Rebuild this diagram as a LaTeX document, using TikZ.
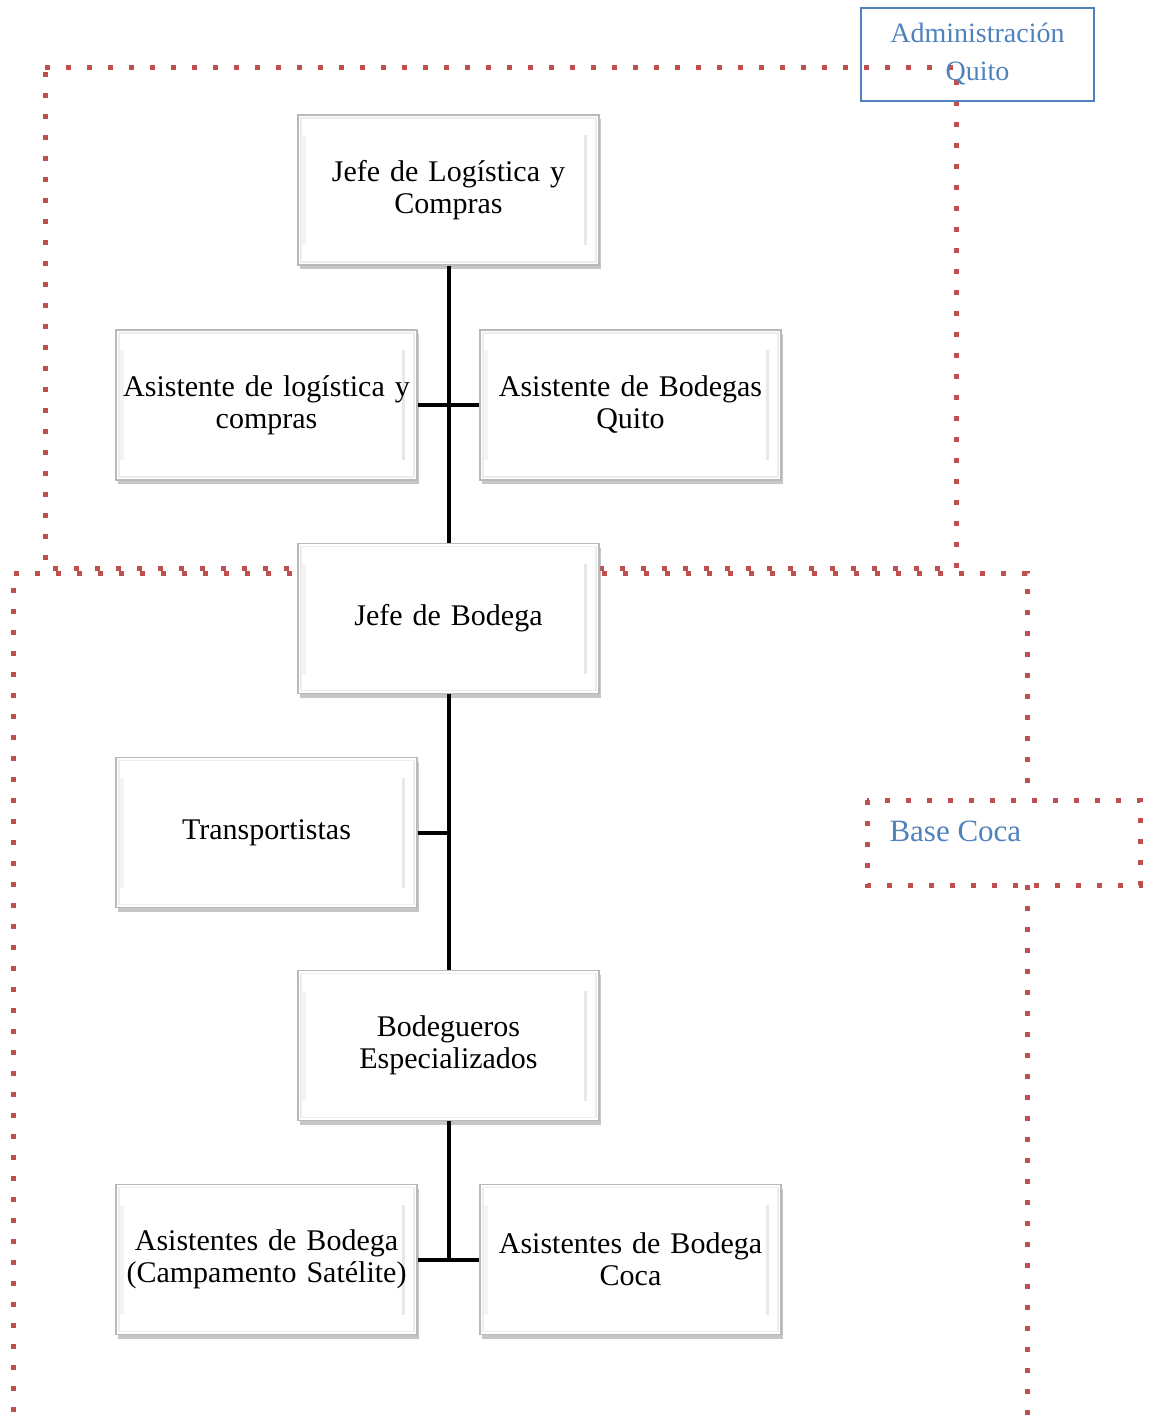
\documentclass[tikz,border=0pt]{standalone}
\usepackage{fontspec}
\setmainfont{Liberation Serif}
\usetikzlibrary{shadows,calc}
\definecolor{dotred}{RGB}{192,80,77}
\definecolor{labelblue}{RGB}{79,129,189}
\begin{document}
\begin{tikzpicture}[x=1pt,y=-1pt,
  orgbox/.style={draw=gray!55, line width=1.8pt, fill=white,
    minimum width=301pt, minimum height=150pt, inner sep=0pt,
    text width=298pt, align=center, font=\fontsize{30}{32}\selectfont,
    drop shadow={shadow xshift=1.5pt, shadow yshift=-4pt, opacity=0.45, fill=gray},
    % bevel highlights, painted under the text
    path picture={
      \draw[gray!14, line width=1.2pt]
        ($(path picture bounding box.north west)+(3,3)$) rectangle
        ($(path picture bounding box.south east)+(-3,-3)$);
      \draw[gray!18, line width=3pt]
        ($(path picture bounding box.north east)+(-14,20)$) --
        ($(path picture bounding box.south east)+(-14,-20)$);
      \draw[gray!9, line width=4pt]
        ($(path picture bounding box.north west)+(6,20)$) --
        ($(path picture bounding box.south west)+(6,-20)$);
    }},
  dotline/.style={draw=dotred, line width=5pt, dash pattern=on 5pt off 16pt},
  link/.style={line width=4pt, black},
  grouplabel/.style={text=labelblue, align=center}]
\useasboundingbox (0,0) rectangle (1154,1428);

% dotted group outlines
\draw[dotline] (45,67) -- (956,67) -- (956,568) -- (45,568) -- cycle;
\draw[dotline] (1027,783) -- (1027,573) -- (13,573) -- (13,1440);
\draw[dotline] (1027,885) -- (1027,1440);

% organisation boxes
\node[orgbox] (jlc) at (448.5,190) {Jefe de Logística y\\Compras};
\node[orgbox] (alc) at (266.5,405) {Asistente de logística y\\compras};
\node[orgbox] (abq) at (630.5,405) {Asistente de Bodegas\\Quito};
\node[orgbox] (jb)  at (448.5,618.5) {Jefe de Bodega};
\node[orgbox] (tr)  at (266.5,832.5) {Transportistas};
\node[orgbox] (be)  at (448.5,1045.5) {Bodegueros\\Especializados};
\node[orgbox] (abs) at (266.5,1259.5) {Asistentes de Bodega\\(Campamento Satélite)};
\node[orgbox] (abc) at (630.5,1259.5) {Asistentes de Bodega\\Coca};

% connectors
\draw[link] (jlc.south) -- (jb.north);
\draw[link] (alc.east) -- (abq.west);
\draw[link] (jb.south) -- (be.north);
\draw[link] (tr.east) -- (tr.east -| jb.south);
\draw[link] (be.south) -- (be.south |- abs.east);
\draw[link] (abs.east) -- (abc.west);

% group labels
\node[draw=labelblue, line width=1.5pt, minimum width=233pt, minimum height=93pt,
  grouplabel, font=\fontsize{28}{38}\selectfont] (adm) at (977.5,54.5)
  {Administración\\Quito};
\draw[dotline] (867,800) rectangle (1140,885);
\node[grouplabel, anchor=west, font=\fontsize{31}{32}\selectfont] (coca) at (886,831) {Base Coca};
\end{tikzpicture}
\end{document}
